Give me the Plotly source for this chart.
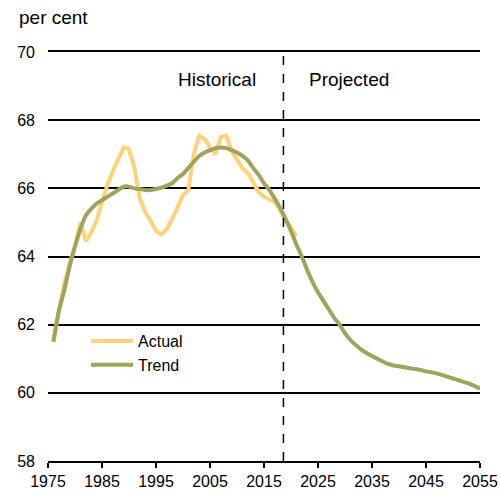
import plotly.graph_objects as go

years_actual = list(range(1976, 2022))
actual = [61.5, 62.4, 63.2, 63.8, 64.3, 65.0, 64.45, 64.7, 65.05, 65.6,
          66.1, 66.5, 66.85, 67.2, 67.15, 66.6, 65.7, 65.3, 65.05, 64.75,
          64.65, 64.8, 65.1, 65.45, 65.8, 65.95, 67.0, 67.55, 67.45, 67.2,
          67.0, 67.5, 67.55, 67.1, 66.85, 66.6, 66.45, 66.2, 65.9, 65.75,
          65.68, 65.6, 65.35, 65.05, 64.85, 64.6]

years_trend = list(range(1976, 2056))
trend = [61.5, 62.4, 63.0, 63.7, 64.3, 64.8, 65.2, 65.4, 65.55, 65.65,
         65.75, 65.85, 65.95, 66.05, 66.05, 66.0, 65.98, 65.95, 65.95, 65.98,
         66.02, 66.08, 66.15, 66.3, 66.42, 66.6, 66.78, 66.95, 67.05, 67.12,
         67.18, 67.2, 67.18, 67.12, 67.05, 66.95, 66.82, 66.6, 66.4, 66.15,
         65.95, 65.7, 65.42, 65.1, 64.75, 64.35, 64.0, 63.6, 63.25, 62.95,
         62.7, 62.45, 62.2, 62.0, 61.75, 61.55, 61.4, 61.27, 61.17, 61.08,
         61.0, 60.92, 60.85, 60.8, 60.78, 60.75, 60.72, 60.7, 60.67, 60.63,
         60.6, 60.57, 60.52, 60.47, 60.42, 60.37, 60.32, 60.27, 60.2, 60.12]

x_ticks = list(range(1975, 2056, 10))
y_ticks = list(range(58, 71, 2))
divider_year = 2018.6

fig = go.Figure()
fig.add_trace(go.Scatter(x=years_actual, y=actual, mode="lines", name="Actual",
                         line=dict(color="#FFD27A", width=4)))
fig.add_trace(go.Scatter(x=years_trend, y=trend, mode="lines", name="Trend",
                         line=dict(color="#A0A35C", width=4, shape="spline",
                                   smoothing=0.6)))

fig.add_shape(type="line", x0=divider_year, x1=divider_year, y0=58, y1=70,
              xref="x", yref="y", line=dict(color="black", width=1.5, dash="dash"))

font = dict(family="Liberation Sans, Arial, sans-serif", size=16, color="black")

fig.update_layout(
    width=500, height=493,
    margin=dict(l=48, r=20, t=52, b=32),
    paper_bgcolor="white", plot_bgcolor="white",
    font=font,
    showlegend=True,
    legend=dict(x=0.088, y=0.335, xanchor="left", yanchor="top",
                bgcolor="rgba(0,0,0,0)", font=dict(size=16), itemwidth=42,
                tracegroupgap=0),
    xaxis=dict(range=[1975, 2055], tickvals=x_ticks, ticks="outside", ticklen=5,
               tickcolor="black", tickwidth=1.5, showline=True, linecolor="black",
               linewidth=1.5, mirror=True, showgrid=False, zeroline=False,
               automargin=False),
    yaxis=dict(range=[58, 70], tickvals=y_ticks, showgrid=True, gridcolor="black",
               gridwidth=1.5, zeroline=False, showline=False, ticks="",
               ticklabelstandoff=12, automargin=False),
    annotations=[
        dict(text="per cent", x=-31 / 432, y=1 + 35 / 409, xref="paper",
             yref="paper", xanchor="left", yanchor="middle",
             showarrow=False, font=dict(size=19)),
        dict(text="Historical", x=2006.3, y=69.18, xref="x", yref="y",
             showarrow=False, font=dict(size=19)),
        dict(text="Projected", x=2030.7, y=69.18, xref="x", yref="y",
             showarrow=False, font=dict(size=19)),
    ],
)

# remove the page's default 8px body margin so the figure fills the window
fig.write_html(
    "out.html",
    config={"displayModeBar": False},
    post_script="document.body.style.margin='0';"
                "document.documentElement.style.overflow='hidden';",
)
